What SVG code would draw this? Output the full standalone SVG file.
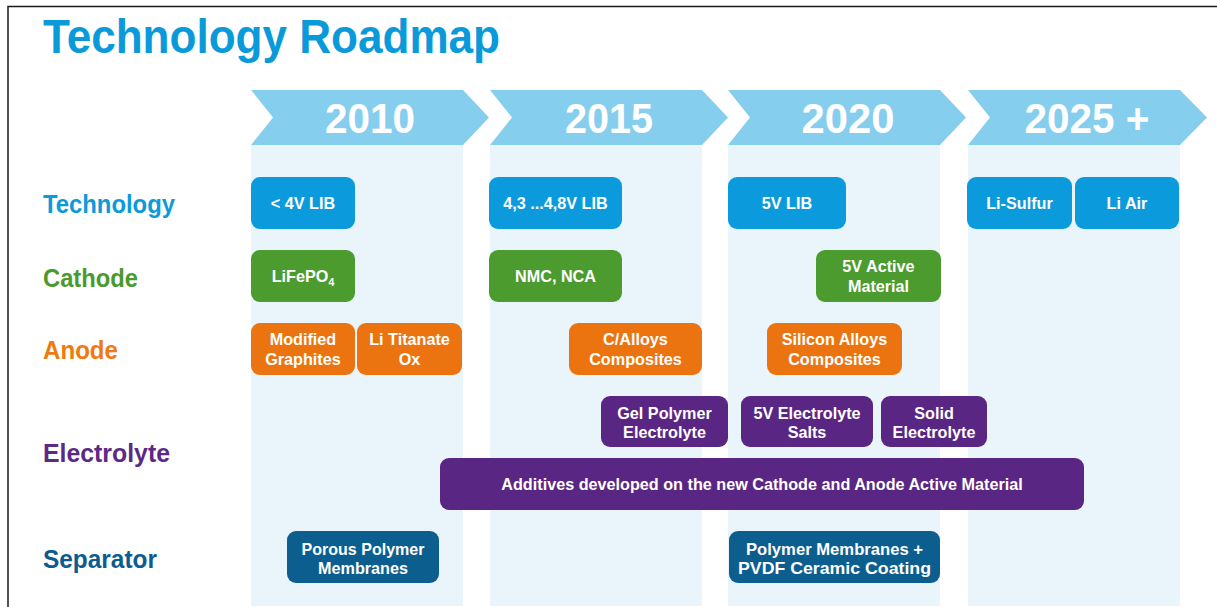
<svg xmlns="http://www.w3.org/2000/svg" width="1217" height="607" viewBox="0 0 1217 607">
<style>
.col{fill:#E9F4FB}
.chev{fill:#86CEEE}
.year{font-family:"Liberation Sans",Arial,sans-serif;font-weight:bold;font-size:42px;fill:#ffffff;text-anchor:middle}
.title{font-family:"Liberation Sans",Arial,sans-serif;font-weight:bold;font-size:48px;fill:#0B9AD9}
.row{font-family:"Liberation Sans",Arial,sans-serif;font-weight:bold;font-size:25px}
.bt{font-family:"Liberation Sans",Arial,sans-serif;font-weight:bold;font-size:16.2px;fill:#ffffff;text-anchor:middle}
.sep{font-size:17px}
.tech{fill:#0B9BDD}
.cath{fill:#4C9B2F}
.anod{fill:#EC7410}
.elec{fill:#5A2683}
.sepr{fill:#0C5E8F}
</style>
<rect x="0" y="0" width="1217" height="607" fill="#ffffff"/>
<path d="M8,607 V6.5 H1217" fill="none" stroke="#1a1a1a" stroke-width="1.5"/>

<g id="title">
<text class="title" x="43" y="53" textLength="457" lengthAdjust="spacingAndGlyphs">Technology Roadmap</text>
</g>

<g id="timeline">
<g id="col-2010">
<rect class="col" x="251" y="145" width="212" height="461"/>
<polygon class="chev" points="251,90 463,90 489,117.5 463,145 251,145 273,117.5"/>
<text class="year" x="370" y="133" textLength="90" lengthAdjust="spacingAndGlyphs">2010</text>
</g>
<g id="col-2015">
<rect class="col" x="490" y="145" width="212" height="461"/>
<polygon class="chev" points="490,90 702,90 728,117.5 702,145 490,145 512,117.5"/>
<text class="year" x="609" y="133" textLength="88" lengthAdjust="spacingAndGlyphs">2015</text>
</g>
<g id="col-2020">
<rect class="col" x="728" y="145" width="212" height="461"/>
<polygon class="chev" points="728,90 940,90 966,117.5 940,145 728,145 750,117.5"/>
<text class="year" x="848" y="133" textLength="93" lengthAdjust="spacingAndGlyphs">2020</text>
</g>
<g id="col-2025">
<rect class="col" x="968" y="145" width="212" height="461"/>
<polygon class="chev" points="968,90 1180,90 1207,117.5 1180,145 968,145 990,117.5"/>
<text class="year" x="1087" y="133" textLength="125" lengthAdjust="spacingAndGlyphs">2025 +</text>
</g>
</g>

<g id="row-labels">
<text class="row" x="43" y="213" fill="#0D9ADB" textLength="132" lengthAdjust="spacingAndGlyphs">Technology</text>
<text class="row" x="43" y="287" fill="#4A9A2E" textLength="95" lengthAdjust="spacingAndGlyphs">Cathode</text>
<text class="row" x="43" y="359" fill="#EE7A11" textLength="75" lengthAdjust="spacingAndGlyphs">Anode</text>
<text class="row" x="43" y="462" fill="#5B2A86" textLength="127" lengthAdjust="spacingAndGlyphs">Electrolyte</text>
<text class="row" x="43" y="568" fill="#0D5C8F" textLength="114" lengthAdjust="spacingAndGlyphs">Separator</text>
</g>

<g id="connectors"/>

<g id="tech-lt4v"><rect class="tech" x="251" y="177" width="104" height="52" rx="9"/><text class="bt" x="303" y="208.5">&lt; 4V LIB</text></g>
<g id="tech-43-48v"><rect class="tech" x="489" y="177" width="133" height="52" rx="9"/><text class="bt" x="555.5" y="208.5">4,3 ...4,8V LIB</text></g>
<g id="tech-5v"><rect class="tech" x="728" y="177" width="118" height="52" rx="9"/><text class="bt" x="787" y="208.5">5V LIB</text></g>
<g id="tech-lisulfur"><rect class="tech" x="967" y="177" width="105" height="52" rx="9"/><text class="bt" x="1019.5" y="208.5">Li-Sulfur</text></g>
<g id="tech-liair"><rect class="tech" x="1075" y="177" width="104" height="52" rx="9"/><text class="bt" x="1127" y="208.5">Li Air</text></g>

<g id="cath-lifepo4"><rect class="cath" x="251" y="250" width="104" height="52" rx="9"/><text class="bt" x="303" y="282">LiFePO<tspan font-size="10.5" dy="4">4</tspan></text></g>
<g id="cath-nmc"><rect class="cath" x="489" y="250" width="133" height="52" rx="9"/><text class="bt" x="555.5" y="281.5">NMC, NCA</text></g>
<g id="cath-5v"><rect class="cath" x="816" y="250" width="125" height="52" rx="9"/><text class="bt" x="878.5" y="272">5V Active</text><text class="bt" x="878.5" y="291.5">Material</text></g>

<g id="anode-graphites"><rect class="anod" x="251" y="323" width="104" height="52" rx="9"/><text class="bt" x="303" y="345">Modified</text><text class="bt" x="303" y="364.5">Graphites</text></g>
<g id="anode-titanate"><rect class="anod" x="357" y="323" width="105" height="52" rx="9"/><text class="bt" x="409.5" y="345">Li Titanate</text><text class="bt" x="409.5" y="364.5">Ox</text></g>
<g id="anode-calloys"><rect class="anod" x="569" y="323" width="133" height="52" rx="9"/><text class="bt" x="635.5" y="345">C/Alloys</text><text class="bt" x="635.5" y="364.5">Composites</text></g>
<g id="anode-silicon"><rect class="anod" x="767" y="323" width="135" height="52" rx="9"/><text class="bt" x="834.5" y="345">Silicon Alloys</text><text class="bt" x="834.5" y="364.5">Composites</text></g>

<g id="elec-gel"><rect class="elec" x="601" y="396" width="127" height="51" rx="9"/><text class="bt" x="664.5" y="419">Gel Polymer</text><text class="bt" x="664.5" y="438">Electrolyte</text></g>
<g id="elec-salts"><rect class="elec" x="741" y="396" width="132" height="51" rx="9"/><text class="bt" x="807" y="419">5V Electrolyte</text><text class="bt" x="807" y="438">Salts</text></g>
<g id="elec-solid"><rect class="elec" x="881" y="396" width="106" height="51" rx="9"/><text class="bt" x="934" y="419">Solid</text><text class="bt" x="934" y="438">Electrolyte</text></g>
<g id="elec-additives"><rect class="elec" x="440" y="458" width="644" height="52" rx="9"/><text class="bt" x="762" y="489.5">Additives developed on the new Cathode and Anode Active Material</text></g>

<g id="sep-porous"><rect class="sepr" x="287" y="531" width="152" height="52" rx="9"/><text class="bt sep" x="363" y="554.5" textLength="123" lengthAdjust="spacingAndGlyphs">Porous Polymer</text><text class="bt sep" x="363" y="574" textLength="90" lengthAdjust="spacingAndGlyphs">Membranes</text></g>
<g id="sep-pvdf"><rect class="sepr" x="729" y="531" width="211" height="52" rx="9"/><text class="bt sep" x="834.5" y="554.5" textLength="177" lengthAdjust="spacingAndGlyphs">Polymer Membranes +</text><text class="bt sep" x="834.5" y="574" textLength="193" lengthAdjust="spacingAndGlyphs">PVDF Ceramic Coating</text></g>
</svg>
